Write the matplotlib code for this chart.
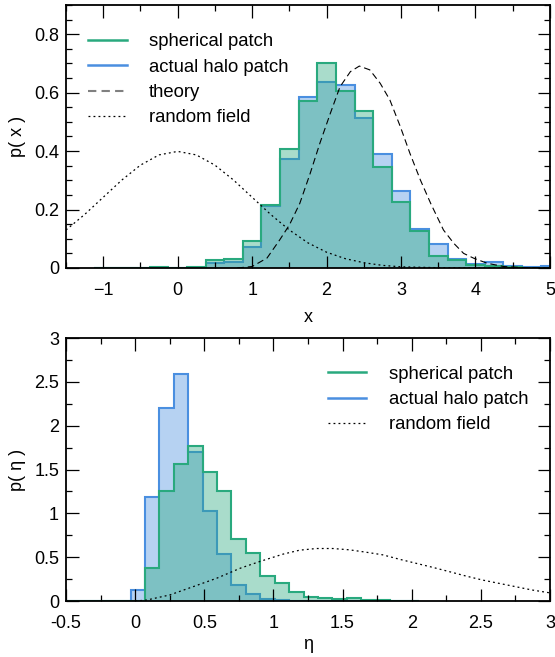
import numpy as np
import matplotlib
matplotlib.use('Agg')
import matplotlib.pyplot as plt
from matplotlib.lines import Line2D
from matplotlib.ticker import MultipleLocator, FormatStrFormatter

plt.rcParams['font.family'] = ['Liberation Sans', 'DejaVu Sans']
plt.rcParams['font.size'] = 13

green = '#29a97e'
blue = '#4a8fe0'

# top panel: x histograms (bin width 0.25)
x_edges = np.arange(26) * 0.25 - 1.125
x_sph = [0, 0, 0, 0.005, 0.001, 0.002, 0.027, 0.030, 0.092, 0.217, 0.407, 0.571, 0.702,
         0.607, 0.537, 0.346, 0.225, 0.127, 0.042, 0.026, 0.010, 0.008, 0.003, 0.001, 0]
x_halo = [0, 0, 0, 0, 0, 0, 0.017, 0.022, 0.071, 0.212, 0.373, 0.584, 0.635,
          0.625, 0.513, 0.390, 0.265, 0.133, 0.082, 0.031, 0.013, 0.019, 0.006, 0.002, 0.006]

x_theory = [0.8, 1.0, 1.2, 1.37, 1.5, 1.64, 1.78, 1.91, 2.05, 2.18, 2.32, 2.44, 2.58, 2.72,
            2.85, 2.99, 3.12, 3.26, 3.4, 3.57, 3.71, 3.84, 3.98, 4.16, 4.38, 4.65, 5.0]
p_theory = [0.0, 0.005, 0.034, 0.096, 0.147, 0.221, 0.324, 0.427, 0.529, 0.62, 0.672, 0.691,
            0.678, 0.632, 0.575, 0.484, 0.392, 0.301, 0.22, 0.13, 0.084, 0.05, 0.033, 0.016,
            0.005, 0.001, 0.0]

x_rand = [-1.5, -1.25, -1.0, -0.75, -0.5, -0.25, 0.0, 0.25, 0.5, 0.75, 1.0, 1.25, 1.5,
          1.75, 2.0, 2.25, 2.5, 2.75, 3.0, 3.5, 4.0, 5.0]
p_xrand = [0.13, 0.183, 0.242, 0.301, 0.352, 0.387, 0.399, 0.387, 0.352, 0.301, 0.242, 0.183,
           0.13, 0.086, 0.054, 0.032, 0.018, 0.009, 0.004, 0.001, 0.0, 0.0]

# bottom panel: eta histograms
eta_edges = -0.5535 + np.arange(26) * 0.1042
eta_sph = [0, 0, 0, 0, 0, 0.0, 0.382, 1.260, 1.565, 1.763, 1.477, 1.260, 0.710, 0.553, 0.29,
           0.20, 0.107, 0.05, 0.03, 0.025, 0.035, 0.01, 0.008, 0.005, 0]
eta_halo = [0, 0, 0, 0, 0, 0.130, 1.183, 2.206, 2.584, 1.695, 1.031, 0.534, 0.179, 0.076, 0.019,
            0.008, 0.003, 0, 0, 0, 0, 0, 0, 0, 0]

eta_rand = [0.0, 0.08, 0.25, 0.42, 0.59, 0.76, 0.9, 1.07, 1.19, 1.31, 1.43, 1.55, 1.67, 1.79,
            1.91, 2.03, 2.15, 2.27, 2.39, 2.51, 2.63, 2.75, 2.87, 3.0]
p_erand = [0.0, 0.01, 0.069, 0.164, 0.26, 0.374, 0.45, 0.535, 0.58, 0.599, 0.599, 0.584, 0.557,
           0.527, 0.477, 0.431, 0.385, 0.336, 0.286, 0.24, 0.202, 0.164, 0.126, 0.093]

dot = (0, (1.5, 2.5))

fig = plt.figure(figsize=(5.55, 6.57), dpi=100)
ax1 = fig.add_axes([0.1189, 0.5921, 0.872, 0.4003])
ax2 = fig.add_axes([0.1189, 0.0852, 0.872, 0.4003])


def hists(ax, edges, halo, sph):
    ax.stairs(halo, edges, fill=True, color=blue, alpha=0.4, lw=0)
    ax.stairs(halo, edges, color=blue, lw=1.5)
    ax.stairs(sph, edges, fill=True, color=green, alpha=0.4, lw=0)
    ax.stairs(sph, edges, color=green, lw=1.5)


hists(ax1, x_edges, x_halo, x_sph)
ax1.plot(x_theory, p_theory, color='k', lw=0.8, linestyle=(0, (6, 3.5)))
ax1.plot(x_rand, p_xrand, color='k', lw=0.9, linestyle=dot)
ax1.set_xlim(-1.5, 5)
ax1.set_ylim(0, 0.9)
ax1.xaxis.set_major_locator(MultipleLocator(1))
ax1.xaxis.set_minor_locator(MultipleLocator(0.5))
ax1.yaxis.set_major_locator(MultipleLocator(0.2))
ax1.yaxis.set_minor_locator(MultipleLocator(0.05))
ax1.yaxis.set_major_formatter(FormatStrFormatter('%g'))
ax1.set_xlabel('x', labelpad=7)
ax1.set_ylabel('p( x )', labelpad=6)

h1 = [Line2D([], [], color=green, lw=1.8),
      Line2D([], [], color=blue, lw=1.8),
      Line2D([], [], color='0.5', lw=1.5, linestyle=(0, (4, 2.5))),
      Line2D([], [], color='k', lw=0.9, linestyle=dot)]
ax1.legend(h1, ['spherical patch', 'actual halo patch', 'theory', 'random field'],
           loc='upper left', bbox_to_anchor=(0.03, 0.92), frameon=False, fontsize=13.3,
           handlelength=2.1, handletextpad=1.2, labelspacing=0.45, borderaxespad=0)

hists(ax2, eta_edges, eta_halo, eta_sph)
ax2.plot(eta_rand, p_erand, color='k', lw=0.9, linestyle=dot)
ax2.set_xlim(-0.5, 3)
ax2.set_ylim(0, 3)
ax2.xaxis.set_major_locator(MultipleLocator(0.5))
ax2.xaxis.set_minor_locator(MultipleLocator(0.25))
ax2.yaxis.set_major_locator(MultipleLocator(0.5))
ax2.yaxis.set_minor_locator(MultipleLocator(0.25))
ax2.xaxis.set_major_formatter(FormatStrFormatter('%g'))
ax2.yaxis.set_major_formatter(FormatStrFormatter('%g'))
ax2.set_xlabel('η', labelpad=3)
ax2.set_ylabel('p( η )', labelpad=6)

h2 = h1[:2] + h1[3:]
ax2.legend(h2, ['spherical patch', 'actual halo patch', 'random field'],
           loc='upper left', bbox_to_anchor=(0.5255, 0.923), frameon=False, fontsize=13.3,
           handlelength=2.1, handletextpad=1.2, labelspacing=0.45, borderaxespad=0)

for ax in (ax1, ax2):
    for s in ax.spines.values():
        s.set_linewidth(1.3)
    ax.tick_params(which='both', direction='in', top=True, right=True, width=0.9)
    ax.tick_params(which='major', length=9, pad=5)
    ax.tick_params(which='minor', length=4.5)
    ax.tick_params(axis='x', which='major', pad=10)

fig.savefig('out.png', dpi=100)
